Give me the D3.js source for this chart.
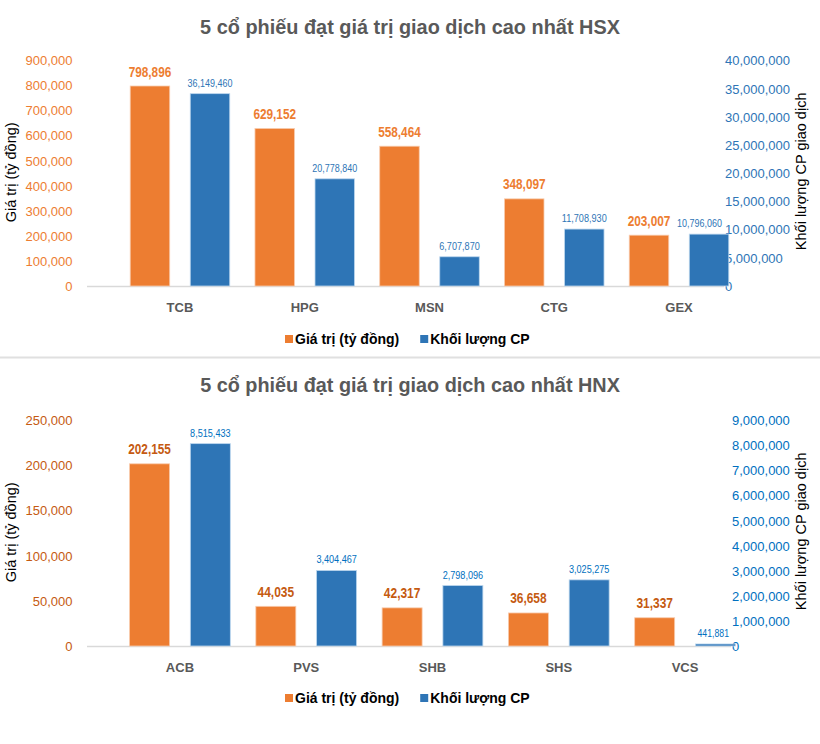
<!DOCTYPE html>
<html>
<head>
<meta charset="utf-8">
<script src="https://cdn.jsdelivr.net/npm/d3@7"></script>
<style>
  html, body { margin: 0; padding: 0; background: #fff; }
  svg { display: block; }
</style>
</head>
<body>
<svg id="chart" width="820" height="744"></svg>
<script>
// ---------- DATA ----------
const hsxTitle = "5 cổ phiếu đạt giá trị giao dịch cao nhất HSX";
const hsxCategories = ["TCB", "HPG", "MSN", "CTG", "GEX"];
const hsxValue = [798896, 629152, 558464, 348097, 203007];
const hsxVolume = [36149460, 20778840, 6707870, 11708930, 10796060];
const hsxLeftTicks = [0, 100000, 200000, 300000, 400000, 500000, 600000, 700000, 800000, 900000];
const hsxRightTicks = [0, 5000000, 10000000, 15000000, 20000000, 25000000, 30000000, 35000000, 40000000];
// the volume bars in the source sit on a floor above zero (as drawn in the reference)
const hsxVolumeBarDomain = [1430000, 42100000];

const hnxTitle = "5 cổ phiếu đạt giá trị giao dịch cao nhất HNX";
const hnxCategories = ["ACB", "PVS", "SHB", "SHS", "VCS"];
const hnxValue = [202155, 44035, 42317, 36658, 31337];
const hnxVolume = [8515433, 3404467, 2798096, 3025275, 441881];
const hnxLeftTicks = [0, 50000, 100000, 150000, 200000, 250000];
const hnxRightTicks = [0, 1000000, 2000000, 3000000, 4000000, 5000000, 6000000, 7000000, 8000000, 9000000];
const hnxVolumeBarDomain = [360000, 9440000];

const seriesNames = ["Giá trị (tỷ đồng)", "Khối lượng CP"];
const leftAxisTitle = "Giá trị (tỷ đồng)";
const rightAxisTitle = "Khối lượng CP giao dịch";

// ---------- STYLE ----------
const fmt = d3.format(",");
const orange = "#ED7D31";
const blue = "#2E75B6";
const narrow = "'Liberation Sans Narrow', 'Arial Narrow', 'Liberation Sans', sans-serif";
const mainFont = "'Liberation Sans', Arial, sans-serif";

const svg = d3.select("#chart");

// place a text at (px, py), horizontally condensed so that its width is at most maxW
function placeCondensed(node, px, py, maxW) {
  const sel = d3.select(node).attr("x", 0).attr("y", 0);
  const w = node.getComputedTextLength();
  const k = Math.min(1, maxW / w);
  sel.attr("transform", `translate(${px},${py}) scale(${k.toFixed(4)},1)`);
  return w * k;
}

function drawChart(cfg) {
  const g = svg.append("g");
  const y0 = cfg.top, y1 = cfg.bottom;

  const x = d3.scaleBand().domain(cfg.categories).range(cfg.xRange).paddingInner(0).paddingOuter(0);
  const xs = d3.scaleBand().domain(["v", "q"]).range([0, x.bandwidth()]).paddingInner(0.342).paddingOuter(0.21);
  const yL = d3.scaleLinear().domain([0, d3.max(cfg.leftTicks)]).range([y1, y0]);
  const yR = d3.scaleLinear().domain([0, d3.max(cfg.rightTicks)]).range([y1, y0]);
  const yRb = d3.scaleLinear().domain(cfg.volumeBarDomain).range([y1, y0]);

  // title
  g.append("text")
    .attr("text-anchor", "middle")
    .attr("font-family", mainFont)
    .attr("font-weight", "bold")
    .attr("font-size", 20)
    .attr("fill", "#595959")
    .text(cfg.title)
    .each(function () { placeCondensed(this, 410, cfg.titleY, 420); });

  // baseline
  g.append("line")
    .attr("x1", cfg.axisLeft).attr("x2", cfg.axisRight)
    .attr("y1", yL(0) + 0.5).attr("y2", yL(0) + 0.5)
    .attr("stroke", "#D9D9D9").attr("stroke-width", 1.5);

  // left axis
  const la = g.append("g").attr("transform", `translate(${cfg.leftLabelX},0)`)
    .call(d3.axisLeft(yL).tickValues(cfg.leftTicks).tickFormat(fmt).tickSize(0).tickPadding(0));
  la.select(".domain").remove();
  la.selectAll("text")
    .attr("font-family", mainFont).attr("font-size", 13)
    .attr("fill", cfg.leftColor);

  // right axis
  const ra = g.append("g").attr("transform", `translate(${cfg.rightLabelX},0)`)
    .call(d3.axisRight(yR).tickValues(cfg.rightTicks).tickFormat(fmt).tickSize(0).tickPadding(0));
  ra.select(".domain").remove();
  ra.selectAll("text")
    .attr("font-family", mainFont).attr("font-size", 13)
    .attr("fill", cfg.rightColor);

  // axis titles
  g.append("text")
    .attr("transform", `translate(${cfg.leftTitleX},${(y0 + y1) / 2 - 1}) rotate(-90)`)
    .attr("text-anchor", "middle")
    .attr("font-family", mainFont).attr("font-size", 14.5)
    .attr("fill", "#000")
    .text(leftAxisTitle);
  g.append("text")
    .attr("transform", `translate(${cfg.rightTitleX},${(y0 + y1) / 2 - 2}) rotate(-90)`)
    .attr("text-anchor", "middle")
    .attr("font-family", mainFont).attr("font-size", 14.5)
    .attr("fill", "#000")
    .text(rightAxisTitle);

  const data = cfg.categories.map((c, i) => ({ c, v: cfg.value[i], q: cfg.volume[i] }));

  // bars
  g.selectAll(".bv").data(data).enter().append("rect")
    .attr("x", d => x(d.c) + xs("v"))
    .attr("width", xs.bandwidth())
    .attr("y", d => yL(d.v))
    .attr("height", d => yL(0) - yL(d.v))
    .attr("fill", orange).attr("stroke", "#F8CBAD").attr("stroke-width", 0.8);
  g.selectAll(".bq").data(data).enter().append("rect")
    .attr("x", d => x(d.c) + xs("q"))
    .attr("width", xs.bandwidth())
    .attr("y", d => yRb(d.q))
    .attr("height", d => Math.max(yRb(cfg.volumeBarDomain[0]) - yRb(d.q), 2))
    .attr("fill", blue).attr("stroke", "#BDD7EE").attr("stroke-width", 0.8);

  // data labels
  g.selectAll(".lv").data(data).enter().append("text")
    .attr("text-anchor", "middle")
    .attr("font-family", narrow).attr("font-weight", "bold").attr("font-size", 15)
    .attr("fill", cfg.valueLabelColor)
    .text(d => fmt(d.v))
    .each(function (d) {
      placeCondensed(this, x(d.c) + xs("v") + xs.bandwidth() / 2, yL(d.v) - 9.5, this.textContent.length * 6.1);
    });
  g.selectAll(".lq").data(data).enter().append("text")
    .attr("text-anchor", "middle")
    .attr("font-family", narrow).attr("font-size", 11.5)
    .attr("fill", cfg.volumeLabelColor)
    .text(d => fmt(d.q))
    .each(function (d) {
      const maxW = this.textContent.length * 4.5;
      const w0 = Math.min(this.getComputedTextLength(), maxW);
      let cxp = x(d.c) + xs("q") + xs.bandwidth() / 2;
      const limit = cfg.rightLabelX - 3;
      if (cxp + w0 / 2 > limit) cxp = limit - w0 / 2;
      placeCondensed(this, cxp, yRb(d.q) - 7, maxW);
    });

  // category axis labels
  const xa = g.append("g").attr("transform", `translate(0,${cfg.catY})`)
    .call(d3.axisBottom(x).tickSize(0).tickPadding(0));
  xa.select(".domain").remove();
  xa.selectAll("text")
    .attr("dy", "0.35em")
    .attr("font-family", mainFont).attr("font-weight", "bold").attr("font-size", 13)
    .attr("fill", "#595959");

  // legend
  const lg = g.append("g").attr("transform", `translate(0,${cfg.legendY})`);
  const items = [{ name: seriesNames[0], color: orange }, { name: seriesNames[1], color: blue }];
  let cx = 285;
  items.forEach((it, i) => {
    lg.append("rect").attr("x", cx).attr("y", -9).attr("width", 8).attr("height", 8).attr("fill", it.color);
    const t = lg.append("text").attr("x", cx + 10).attr("y", 0)
      .attr("font-family", mainFont).attr("font-weight", "bold").attr("font-size", 14)
      .attr("fill", "#000").text(it.name);
    cx = cx + 10 + t.node().getComputedTextLength() + 21;
  });
}

drawChart({
  title: hsxTitle, categories: hsxCategories, value: hsxValue, volume: hsxVolume,
  leftTicks: hsxLeftTicks, rightTicks: hsxRightTicks, volumeBarDomain: hsxVolumeBarDomain,
  top: 60.7, bottom: 286, titleY: 34,
  xRange: [117.6, 741.4], axisLeft: 87, axisRight: 724,
  leftLabelX: 72.5, rightLabelX: 725,
  leftTitleX: 16, rightTitleX: 806,
  leftColor: orange, rightColor: blue,
  valueLabelColor: orange, volumeLabelColor: blue,
  catY: 307, legendY: 344
});

// separator
svg.append("line").attr("x1", 0).attr("x2", 820).attr("y1", 357.5).attr("y2", 357.5)
  .attr("stroke", "#E0E0E0").attr("stroke-width", 2);

drawChart({
  title: hnxTitle, categories: hnxCategories, value: hnxValue, volume: hnxVolume,
  leftTicks: hnxLeftTicks, rightTicks: hnxRightTicks, volumeBarDomain: hnxVolumeBarDomain,
  top: 420.7, bottom: 646, titleY: 392,
  xRange: [116.8, 748.2], axisLeft: 87, axisRight: 731,
  leftLabelX: 72.5, rightLabelX: 732,
  leftTitleX: 16, rightTitleX: 806,
  leftColor: "#C55A11", rightColor: "#0070C0",
  valueLabelColor: "#C55A11", volumeLabelColor: "#0070C0",
  catY: 667, legendY: 703
});
</script>
</body>
</html>
